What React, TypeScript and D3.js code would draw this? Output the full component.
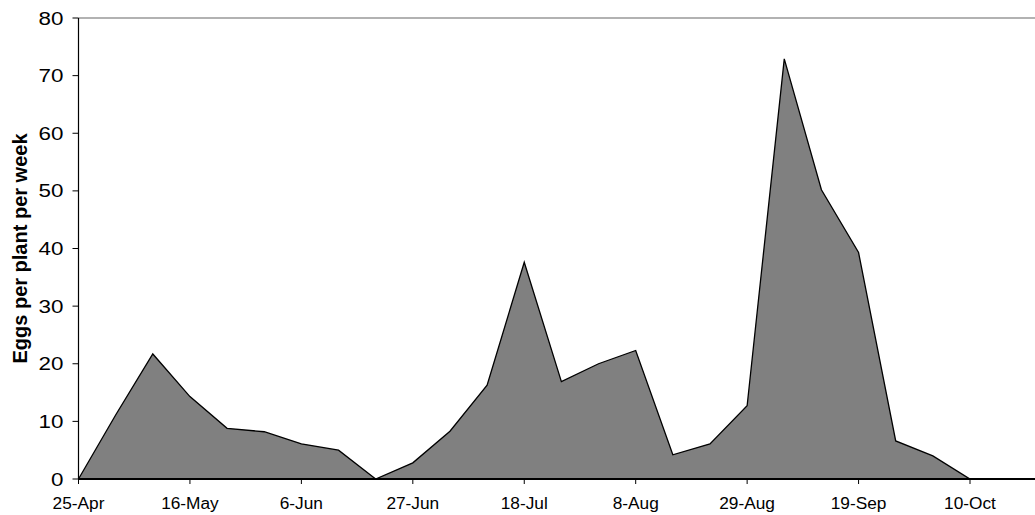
import React from "react";
import * as d3 from "d3";

const weeks = [
  "25-Apr", "2-May", "9-May", "16-May", "23-May", "30-May", "6-Jun", "13-Jun", "20-Jun",
  "27-Jun", "4-Jul", "11-Jul", "18-Jul", "25-Jul", "1-Aug", "8-Aug", "15-Aug", "22-Aug",
  "29-Aug", "5-Sep", "12-Sep", "19-Sep", "26-Sep", "3-Oct", "10-Oct", "17-Oct", "24-Oct",
];
const eggs = [
  0, 11.1, 21.7, 14.3, 8.8, 8.2, 6.1, 5.0, 0, 2.8, 8.3, 16.3, 37.6, 16.9, 20.0, 22.3, 4.2,
  6.1, 12.7, 72.9, 50.2, 39.3, 6.6, 4.0, 0, 0, 0,
];
const xTickLabels = ["25-Apr", "16-May", "6-Jun", "27-Jun", "18-Jul", "8-Aug", "29-Aug", "19-Sep", "10-Oct"];
const yTicks = [0, 10, 20, 30, 40, 50, 60, 70, 80];
const yTitle = "Eggs per plant per week";

export default function App() {
  const W = 1035;
  const H = 515;
  const left = 78.5;
  const top = 18;
  const bottom = 479;
  const weekPx = (970 - 78.5) / 24;

  const x = d3.scaleLinear().domain([0, weeks.length - 1]).range([left, left + (weeks.length - 1) * weekPx]);
  const y = d3.scaleLinear().domain([0, 80]).range([bottom, top]);

  const pts = eggs.map((v, i) => [i, v] as [number, number]);
  const area = d3
    .area<[number, number]>()
    .x((d) => x(d[0]))
    .y0(y(0))
    .y1((d) => y(d[1]))(pts) as string;
  const line = d3
    .line<[number, number]>()
    .x((d) => x(d[0]))
    .y((d) => y(d[1]))(pts) as string;

  const font = "Arial, 'Liberation Sans', sans-serif";

  return (
    <svg
      width={W}
      height={H}
      style={{ position: "absolute", left: 0, top: 0, background: "#fff" }}
      fontFamily={font}
    >
      {/* top border */}
      <line x1={left} x2={W} y1={top} y2={top} stroke="#999" strokeWidth={1.5} />
      {/* area */}
      <path d={area} fill="#808080" stroke="none" />
      <path d={line} fill="none" stroke="#000" strokeWidth={1.3} strokeLinejoin="miter" />
      {/* y axis */}
      <line x1={left} x2={left} y1={top} y2={bottom} stroke="#000" strokeWidth={1.2} />
      {yTicks.map((t) => (
        <g key={t}>
          <line x1={left - 6} x2={left} y1={y(t)} y2={y(t)} stroke="#000" strokeWidth={1} />
          <g transform={`translate(63.5,${y(t) + 6.5}) scale(1.28,1)`}>
            <text x={0} y={0} textAnchor="end" fontSize={17.5} fill="#000">
              {t}
            </text>
          </g>
        </g>
      ))}
      {/* x axis */}
      <line x1={left} x2={W} y1={bottom} y2={bottom} stroke="#000" strokeWidth={2} />
      {xTickLabels.map((lab) => {
        const i = weeks.indexOf(lab);
        const xx = x(i);
        return (
          <g key={lab}>
            <line x1={xx} x2={xx} y1={bottom} y2={bottom + 5} stroke="#000" strokeWidth={1} />
            <text x={xx} y={509.3} textAnchor="middle" fontSize={17.3} fill="#000">
              {lab}
            </text>
          </g>
        );
      })}
      {/* y title */}
      <text
        transform={`translate(26.5,${(top + bottom) / 2}) rotate(-90)`}
        textAnchor="middle"
        fontSize={20}
        fontWeight="bold"
        fill="#000"
      >
        {yTitle}
      </text>
    </svg>
  );
}
